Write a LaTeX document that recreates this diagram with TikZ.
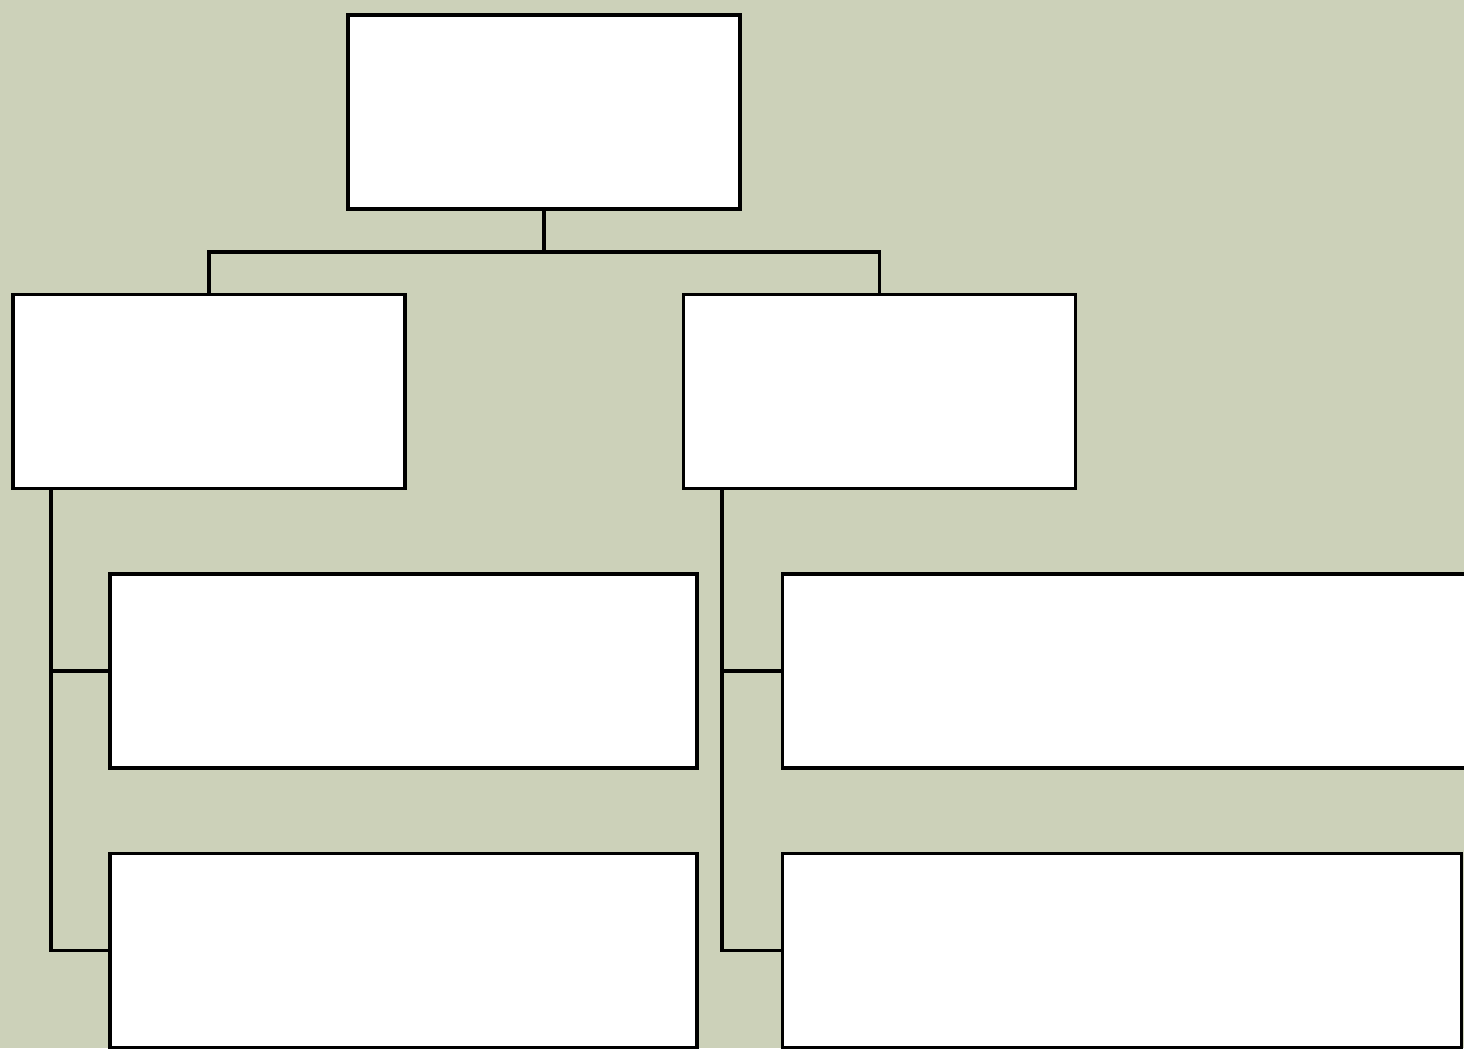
\documentclass[tikz,border=0pt]{standalone}
\usepackage{tikz}
\usepackage{xcolor}
\usetikzlibrary{positioning,calc}
\definecolor{sage}{HTML}{CCD1B9}

\begin{document}
\begin{tikzpicture}[
    line width=1pt,
    box/.style={draw=black, fill=white, inner sep=0pt,
                minimum width=#1, minimum height=1.94cm},
    box/.default=3.92cm,
    link/.style={draw=black, line width=1pt},
  ]
  \useasboundingbox (0,0) rectangle (14.64,10.48);
  \clip (0,0) rectangle (14.64,10.48);
  \fill[sage] (0,0) rectangle (14.64,10.48);

  \node[box]                                  (root)  at (5.44,9.36) {};
  \node[box, below=0.82cm of root, xshift=-3.35cm] (left)  {};
  \node[box, below=0.82cm of root, xshift=3.355cm] (right) {};

  % left branch
  \node[box=5.87cm, below=0.82cm of left.south west, anchor=north west, xshift=0.97cm] (lone) {};
  \node[box=5.87cm, below=0.82cm of lone] (ltwo) {};

  % right branch
  \node[box=7.2cm, below=0.82cm of right.south west, anchor=north west, xshift=0.99cm] (rone) {};
  \node[box=6.79cm, below=0.82cm of rone.south west, anchor=north west] (rtwo) {};

  \draw[link] (root.south) -- ++(0,-0.41) coordinate (fork);
  \draw[link] (fork) -| (left.north);
  \draw[link] (fork) -| (right.north);

  \draw[link] ($(left.south west)+(0.40,0)$) |- (lone.west);
  \draw[link] ($(left.south west)+(0.40,0)$) |- (ltwo.west);
  \draw[link] ($(right.south west)+(0.40,0)$) |- (rone.west);
  \draw[link] ($(right.south west)+(0.40,0)$) |- (rtwo.west);
\end{tikzpicture}
\end{document}
